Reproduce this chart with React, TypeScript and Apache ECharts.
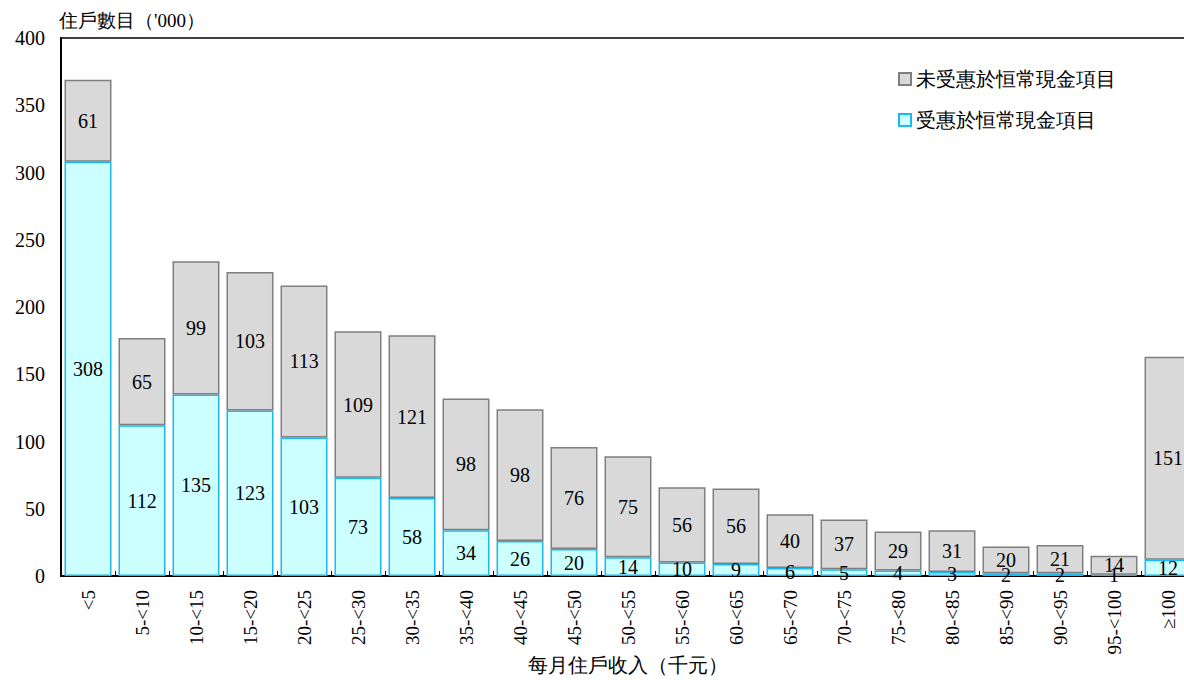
import React, { useEffect, useRef } from "react";
import * as echarts from "echarts";

const categories = ["<5", "5-<10", "10-<15", "15-<20", "20-<25", "25-<30", "30-<35", "35-<40", "40-<45", "45-<50", "50-<55", "55-<60", "60-<65", "65-<70", "70-<75", "75-<80", "80-<85", "85-<90", "90-<95", "95-<100", "≥100"];
const benefited = [308, 112, 135, 123, 103, 73, 58, 34, 26, 20, 14, 10, 9, 6, 5, 4, 3, 2, 2, 1, 12];
const notBenefited = [61, 65, 99, 103, 113, 109, 121, 98, 98, 76, 75, 56, 56, 40, 37, 29, 31, 20, 21, 14, 151];
const seriesNames = ["未受惠於恒常現金項目", "受惠於恒常現金項目"];
const yTicks = { min: 0, max: 400, interval: 50 };

const FONT = "Times New Roman";

export default function App() {
  const ref = useRef<HTMLDivElement>(null);
  useEffect(() => {
    if (!ref.current) return;
    const chart = echarts.init(ref.current, undefined, { renderer: "svg" });
    chart.setOption({
      animation: false,
      textStyle: { fontFamily: FONT },
      legend: {
        orient: "vertical",
        left: 893,
        top: 64,
        itemGap: 21,
        itemWidth: 12,
        itemHeight: 12,
        icon: "rect",
        data: [seriesNames[0], seriesNames[1]],
        textStyle: { fontFamily: FONT, fontSize: 20, color: "#000" },
      },
      grid: {
        left: 61,
        top: 38,
        width: 1134,
        height: 538,
        outerBoundsMode: "none",
        containLabel: false,
        show: true,
        borderColor: "#000",
        borderWidth: 1.5,
        backgroundColor: "transparent",
      },
      xAxis: {
        type: "category",
        data: categories,
        name: "每月住戶收入（千元）",
        nameLocation: "middle",
        nameGap: 79,
        nameMoveOverlap: false,
        nameTextStyle: { fontFamily: FONT, fontSize: 20, color: "#000", verticalAlign: "top" },
        axisLine: { lineStyle: { color: "#000", width: 2 } },
        axisTick: { show: true, inside: true, length: 5, lineStyle: { color: "#000" } },
        axisLabel: {
          rotate: 90,
          margin: 14,
          interval: 0,
          fontFamily: FONT,
          fontSize: 19,
          color: "#000",
        },
      },
      yAxis: {
        type: "value",
        min: yTicks.min,
        max: yTicks.max,
        interval: yTicks.interval,
        name: "住戶數目（'000）",
        nameLocation: "end",
        nameGap: 8,
        nameTextStyle: { fontFamily: FONT, fontSize: 19, color: "#000", align: "left", padding: [0, 0, 0, -2] },
        axisLine: { show: true, lineStyle: { color: "#000", width: 2 } },
        axisTick: { show: false },
        splitLine: { show: false },
        axisLabel: { fontFamily: FONT, fontSize: 20, color: "#000", margin: 16 },
      },
      series: [
        {
          name: seriesNames[1],
          type: "bar",
          stack: "total",
          barWidth: "87%",
          data: benefited,
          itemStyle: { color: "#ccffff", borderColor: "#1cb8f0", borderWidth: 1.5 },
          label: { show: true, position: "inside", fontFamily: FONT, fontSize: 20, color: "#000" },
        },
        {
          name: seriesNames[0],
          type: "bar",
          stack: "total",
          barWidth: "87%",
          data: notBenefited,
          itemStyle: { color: "#d9d9d9", borderColor: "#7f7f7f", borderWidth: 1.5 },
          label: { show: true, position: "inside", fontFamily: FONT, fontSize: 20, color: "#000" },
        },
      ],
    });
    return () => chart.dispose();
  }, []);
  return (
    <div style={{ position: "fixed", left: 0, top: 0, width: 1184, height: 680, overflow: "hidden", background: "#fff" }}>
      <div ref={ref} style={{ width: 1210, height: 680 }} />
    </div>
  );
}
